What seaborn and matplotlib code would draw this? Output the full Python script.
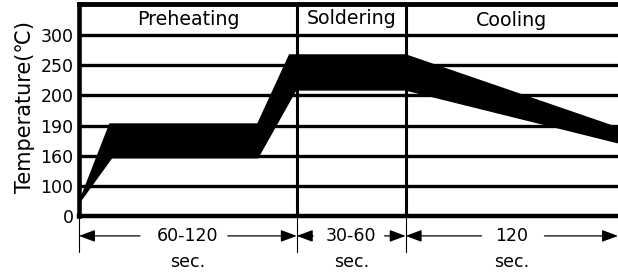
import matplotlib
matplotlib.use("Agg")
import matplotlib.pyplot as plt
import seaborn as sns
import pandas as pd

# ---- data ----
temp_ticks = ["0", "100", "160", "190", "200", "250", "300"]   # non-linear axis labels
stage_names = ["Preheating", "Soldering", "Cooling"]
stage_bounds = [0, 120, 180, 297]          # seconds (cumulative)
stage_durations = ["60-120", "30-60", "120"]

# reflow band edges (time in s, position on the categorical temperature axis)
upper_time = [0, 17, 98.5, 116, 180, 297]
upper_pos = [0.43, 3.05, 3.05, 5.34, 5.34, 2.92]
lower_time = [0, 18, 98.5, 119.5, 180, 297]
lower_pos = [0.43, 1.93, 1.93, 4.18, 4.18, 2.43]

sns.set_theme(style="white")
plt.rcParams["font.family"] = ["DejaVu Sans"]

fig = plt.figure(figsize=(6.18, 2.75), dpi=100)
ax = fig.add_axes([79 / 618, 1 - 216 / 275, 1 - 79 / 618, (216 - 4) / 275])

ax.set_xlim(stage_bounds[0], stage_bounds[-1])
ax.set_ylim(0, 7.03)

# horizontal grid lines at each temperature level
for i in range(1, len(temp_ticks)):
    ax.axhline(i, color="black", lw=2.4, zorder=1)
# vertical stage dividers
for b in stage_bounds[1:-1]:
    ax.axvline(b, color="black", lw=2.2, zorder=1)

# band
edges = pd.DataFrame({
    "time": upper_time + lower_time,
    "pos": upper_pos + lower_pos,
    "edge": ["upper"] * len(upper_time) + ["lower"] * len(lower_time),
})
sns.lineplot(data=edges, x="time", y="pos", units="edge", estimator=None,
             color="black", lw=1, ax=ax, zorder=3)
ax.fill(upper_time + lower_time[::-1], upper_pos + lower_pos[::-1],
        color="black", lw=0, zorder=3)

# spines
for s in ["left", "bottom", "top"]:
    ax.spines[s].set_visible(True)
    ax.spines[s].set_color("black")
ax.spines["left"].set_linewidth(3.3)
ax.spines["bottom"].set_linewidth(3.2)
ax.spines["top"].set_linewidth(3.5)
ax.spines["right"].set_visible(False)

ax.set_yticks(range(len(temp_ticks)))
ax.set_yticklabels(temp_ticks, fontsize=12.5, color="black")
ax.tick_params(axis="y", length=0, pad=4)
ax.set_xticks([])
ax.set_xlabel("")
ax.set_ylabel("Temperature(\u2103)", fontsize=15, color="black")
ax.yaxis.set_label_coords(-0.082, 0.512)

# stage headers
header_y = [6.5, 6.56, 6.47]
for k, name in enumerate(stage_names):
    cx = (stage_bounds[k] + stage_bounds[k + 1]) / 2
    ax.text(cx, header_y[k], name, ha="center", va="center", fontsize=13.7, color="black")

# duration annotations below the axis
arrow_y = -0.66
sec_y = -1.53
for b in stage_bounds[:-1]:
    ax.plot([b, b], [-0.07, -1.19], color="black", lw=0.8, clip_on=False)

gaps = [(33.6, 82.0), (129.0, 168.4), (221.8, 256.5)]
aprops = dict(arrowstyle="-|>,head_length=0.75,head_width=0.28", color="black",
              lw=0.9, shrinkA=0, shrinkB=0)
for k, lab in enumerate(stage_durations):
    x0, x1 = stage_bounds[k], stage_bounds[k + 1]
    g0, g1 = gaps[k]
    ax.annotate("", xy=(x0, arrow_y), xytext=(g0, arrow_y), arrowprops=aprops,
                annotation_clip=False, fontsize=13)
    ax.annotate("", xy=(x1, arrow_y), xytext=(g1, arrow_y), arrowprops=aprops,
                annotation_clip=False, fontsize=13)
    cx = (x0 + x1) / 2
    ax.text(cx, arrow_y, lab, ha="center", va="center", fontsize=12.5, color="black")
    ax.text(cx, sec_y, "sec.", ha="center", va="center", fontsize=12.5, color="black")

fig.savefig("out.png", dpi=100)
